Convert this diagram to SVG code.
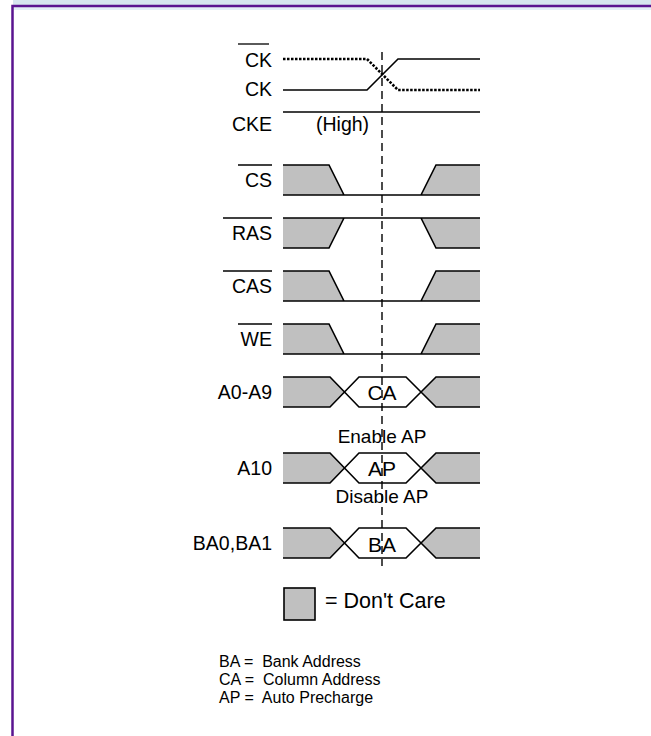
<svg xmlns="http://www.w3.org/2000/svg" width="651" height="736" viewBox="0 0 651 736">
<style>
.sig{fill:none;stroke:#000;stroke-width:1.6}
.dc{fill:#c0c0c0;stroke:none}
.dot{fill:none;stroke:#000;stroke-width:2.6;stroke-dasharray:2.5 1.5}
.lbl{font-family:"Liberation Sans",Arial,sans-serif;font-size:19.5px;fill:#000}
.mid{font-family:"Liberation Sans",Arial,sans-serif;font-size:21px;fill:#000;text-anchor:middle}
.sm{font-family:"Liberation Sans",Arial,sans-serif;font-size:19px;fill:#000}
.leg{font-family:"Liberation Sans",Arial,sans-serif;font-size:16px;fill:#000}
.ov{stroke:#000;stroke-width:1.3}
</style>
<rect x="0" y="0" width="651" height="736" fill="#fff"/>
<rect x="13" y="0" width="638" height="5" fill="#d6e6ef"/>
<rect x="13" y="7" width="638" height="3" fill="#e3eef6"/>
<path d="M12.5 736 V6 H651" fill="none" stroke="#5a1490" stroke-width="2.5"/>

<g id="connectors">
<line x1="382" y1="52" x2="382" y2="566" stroke="#000" stroke-width="1.4" stroke-dasharray="8 5"/>
</g>

<g id="ck-bar">
<text class="lbl" x="272" y="67" text-anchor="end">CK</text>
<line class="ov" x1="238" y1="44" x2="269" y2="44"/>
<path class="dot" d="M283 59 H367 L398 90 H480"/>
</g>
<g id="ck">
<text class="lbl" x="272" y="96" text-anchor="end">CK</text>
<path class="sig" d="M283 90 H367 L398 59 H480"/>
</g>
<g id="cke">
<text class="lbl" x="272" y="131" text-anchor="end">CKE</text>
<text class="lbl" x="316" y="131">(High)</text>
<line class="sig" x1="283" y1="112" x2="480" y2="112"/>
</g>

<g id="cs">
<text class="lbl" x="272" y="187" text-anchor="end">CS</text>
<line class="ov" x1="238" y1="165" x2="272" y2="165"/>
<path class="dc" d="M283 165 H329 L344 195 H283 Z"/>
<path class="dc" d="M480 165 H436 L421 195 H480 Z"/>
<path class="sig" d="M283 165 H329 L344 195 H421 L436 165 H480 M283 195 H344 M421 195 H480"/>
</g>
<g id="ras">
<text class="lbl" x="272" y="240" text-anchor="end">RAS</text>
<line class="ov" x1="223" y1="218" x2="272" y2="218"/>
<path class="dc" d="M283 218 H344 L329 248 H283 Z"/>
<path class="dc" d="M480 218 H421 L436 248 H480 Z"/>
<path class="sig" d="M283 248 H329 L344 218 H421 L436 248 H480 M283 218 H344 M421 218 H480"/>
</g>
<g id="cas">
<text class="lbl" x="272" y="293" text-anchor="end">CAS</text>
<line class="ov" x1="223" y1="271" x2="272" y2="271"/>
<path class="dc" d="M283 271 H329 L344 301 H283 Z"/>
<path class="dc" d="M480 271 H436 L421 301 H480 Z"/>
<path class="sig" d="M283 271 H329 L344 301 H421 L436 271 H480 M283 301 H344 M421 301 H480"/>
</g>
<g id="we">
<text class="lbl" x="272" y="346" text-anchor="end">WE</text>
<line class="ov" x1="238" y1="324" x2="272" y2="324"/>
<path class="dc" d="M283 324 H329 L344 354 H283 Z"/>
<path class="dc" d="M480 324 H436 L421 354 H480 Z"/>
<path class="sig" d="M283 324 H329 L344 354 H421 L436 324 H480 M283 354 H344 M421 354 H480"/>
</g>

<g id="a0-a9">
<text class="lbl" x="272" y="399" text-anchor="end">A0-A9</text>
<path class="dc" d="M283 377 H330 L344 392 L330 407 H283 Z"/>
<path class="dc" d="M480 377 H436 L421 392 L436 407 H480 Z"/>
<path class="sig" d="M283 377 H330 L359 407 H406 L436 377 H480 M283 407 H330 L359 377 H406 L436 407 H480"/>
<text class="mid" x="382" y="400">CA</text>
</g>
<g id="a10">
<text class="sm" x="382" y="443" text-anchor="middle">Enable AP</text>
<text class="lbl" x="272" y="475" text-anchor="end">A10</text>
<path class="dc" d="M283 453 H330 L344 468 L330 483 H283 Z"/>
<path class="dc" d="M480 453 H436 L421 468 L436 483 H480 Z"/>
<path class="sig" d="M283 453 H330 L359 483 H406 L436 453 H480 M283 483 H330 L359 453 H406 L436 483 H480"/>
<text class="mid" x="382" y="476">AP</text>
<text class="sm" x="382" y="503" text-anchor="middle">Disable AP</text>
</g>
<g id="ba">
<text class="lbl" x="272" y="550" text-anchor="end">BA0,BA1</text>
<path class="dc" d="M283 528 H330 L344 543 L330 558 H283 Z"/>
<path class="dc" d="M480 528 H436 L421 543 L436 558 H480 Z"/>
<path class="sig" d="M283 528 H330 L359 558 H406 L436 528 H480 M283 558 H330 L359 528 H406 L436 558 H480"/>
<text class="mid" x="382" y="552">BA</text>
</g>

<g id="legend">
<rect x="284" y="588" width="31" height="32" fill="#c0c0c0" stroke="#000" stroke-width="1.6"/>
<text class="lbl" x="325" y="608" style="font-size:21.5px">= Don't Care</text>
<text class="leg" x="219" y="667" xml:space="preserve">BA =  Bank Address</text>
<text class="leg" x="219" y="685" xml:space="preserve">CA =  Column Address</text>
<text class="leg" x="219" y="703" xml:space="preserve">AP =  Auto Precharge</text>
</g>
</svg>
